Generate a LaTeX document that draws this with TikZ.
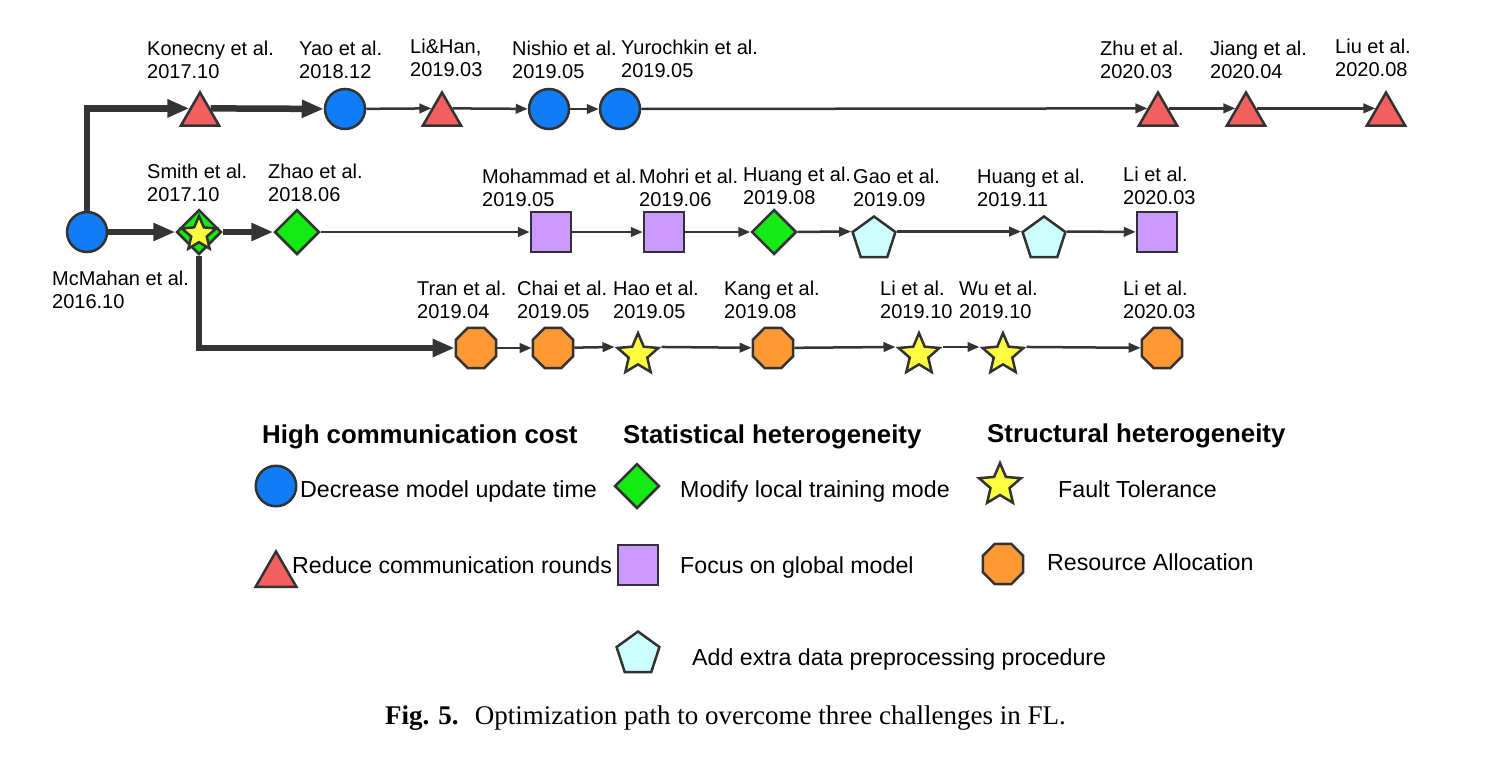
\documentclass[tikz,border=0pt]{standalone}
\usepackage{fontspec}
\setmainfont{Liberation Sans}
\newfontfamily\capfont{Liberation Serif}
\usetikzlibrary{shapes.geometric,arrows.meta}
\definecolor{cblue}{RGB}{16,124,245}
\definecolor{cred}{RGB}{242,96,96}
\definecolor{cgreen}{RGB}{20,235,20}
\definecolor{cpurple}{RGB}{204,153,255}
\definecolor{ccyan}{RGB}{204,255,255}
\definecolor{cyellow}{RGB}{255,255,64}
\definecolor{corange}{RGB}{255,153,51}
\definecolor{outl}{RGB}{50,50,50}
\definecolor{lnc}{RGB}{52,52,52}
\begin{document}
\begin{tikzpicture}[x=1pt,y=-1pt,
  shp/.style={draw=outl, line width=2.5pt, inner sep=0pt},
  circ/.style={shp, circle, fill=cblue, minimum size=40pt},
  tri/.style={shp, regular polygon, regular polygon sides=3, fill=cred, minimum size=44pt},
  dia/.style={shp, diamond, fill=cgreen, minimum width=45pt, minimum height=45pt},
  sq/.style={shp, rectangle, fill=cpurple, minimum size=40pt},
  pent/.style={shp, regular polygon, regular polygon sides=5, fill=ccyan, minimum size=45pt},
  stt/.style={shp, star, star points=5, star point ratio=2.2, fill=cyellow, minimum size=43pt},
  oct/.style={shp, regular polygon, regular polygon sides=8, fill=corange, minimum size=43.5pt},
  lab/.style={anchor=north west, inner sep=0pt, align=left, font=\fontsize{20}{23}\selectfont},
  head/.style={anchor=base west, inner sep=0pt, font=\bfseries\fontsize{25.8}{30}\selectfont},
  lgtxt/.style={anchor=base west, inner sep=0pt, font=\fontsize{23.2}{27}\selectfont},
  thinarr/.style={draw=lnc, line width=2.5pt, -{Triangle[length=12pt,width=9.5pt]}},
  thickarr/.style={draw=lnc, line width=6.5pt, -{Triangle[length=22pt,width=17pt]}}
]
\useasboundingbox (0,0) rectangle (1486,756);

% ---- top row
\node[circ] (mcmahan) at (87,232) {};
\node[tri] (konecny) at (200,114.5) {};
\node[circ] (yao) at (345,109) {};
\node[tri] (lihan) at (442,114.5) {};
\node[circ] (nishio) at (549,109) {};
\node[circ] (yurochkin) at (620,109) {};
\node[tri] (zhu) at (1158,114.5) {};
\node[tri] (jiang) at (1246,114.5) {};
\node[tri] (liu) at (1386,114.5) {};

% ---- middle row
\node[dia] (smith) at (199,232) {};
\node[stt, minimum size=36pt] (smithstar) at (199,234) {};
\node[dia] (zhao) at (297,232) {};
\node[sq] (mohammad) at (551,232) {};
\node[sq] (mohri) at (664,232) {};
\node[dia] (huangA) at (774,232) {};
\node[pent] (gao) at (874,239) {};
\node[pent] (huangB) at (1044,239) {};
\node[sq] (liA) at (1157,232) {};

% ---- bottom row
\node[oct] (tran) at (476,348) {};
\node[oct] (chai) at (553,348) {};
\node[stt] (hao) at (638,354.6) {};
\node[oct] (kang) at (773,348) {};
\node[stt] (liB) at (919,354.6) {};
\node[stt] (wu) at (1003,354.6) {};
\node[oct] (liC) at (1162,348) {};

% ---- connectors
\draw[thickarr] (mcmahan.north) |- (konecny.side 1);
\draw[thickarr] (konecny.side 3) -- (yao);
\draw[thinarr] (yao) -- (lihan.side 1);
\draw[thinarr] (lihan.side 3) -- (nishio);
\draw[thinarr] (nishio) -- (yurochkin);
\draw[thinarr] (yurochkin) -- (zhu.side 1);
\draw[thinarr] (zhu.side 3) -- (jiang.side 1);
\draw[thinarr] (jiang.side 3) -- (liu.side 1);

\draw[thickarr] (mcmahan) -- (smith);
\draw[thickarr] (smith) -- (zhao);
\draw[thinarr] (zhao) -- (mohammad);
\draw[thinarr] (mohammad) -- (mohri);
\draw[thinarr] (mohri) -- (huangA);
\draw[thinarr] (huangA) -- (gao.corner 2);
\draw[thinarr] (gao.corner 5) -- (huangB.corner 2);
\draw[thinarr] (huangB.corner 5) -- (liA);

\draw[thickarr] (smith.south) |- (tran);
\draw[thinarr] (tran) -- (chai);
\draw[thinarr] (chai) -- (hao.outer point 2);
\draw[thinarr] (hao.outer point 5) -- (kang);
\draw[thinarr] (kang) -- (liB.outer point 2);
\draw[thinarr] (liB.outer point 5) -- (wu.outer point 2);
\draw[thinarr] (wu.outer point 5) -- (liC);

% ---- labels
\node[lab] (l-konecny) at (147,40.5) {Konecny et al.\\2017.10};
\node[lab] (l-yao) at (299,40.5) {Yao et al.\\2018.12};
\node[lab] (l-lihan) at (410,39) {Li\&Han,\\2019.03};
\node[lab] (l-nishio) at (512,40.5) {Nishio et al.\\2019.05};
\node[lab] (l-yurochkin) at (621,40) {Yurochkin et al.\\2019.05};
\node[lab] (l-zhu) at (1100,40.5) {Zhu et al.\\2020.03};
\node[lab] (l-jiang) at (1210,40.5) {Jiang et al.\\2020.04};
\node[lab] (l-liu) at (1335,38.5) {Liu et al.\\2020.08};

\node[lab] (l-smith) at (147,163.5) {Smith et al.\\2017.10};
\node[lab] (l-zhao) at (268,163.5) {Zhao et al.\\2018.06};
\node[lab] (l-mohammad) at (482,168.5) {Mohammad et al.\\2019.05};
\node[lab] (l-mohri) at (639,168.5) {Mohri et al.\\2019.06};
\node[lab] (l-huangA) at (743,167) {Huang et al.\\2019.08};
\node[lab] (l-gao) at (853,168.5) {Gao et al.\\2019.09};
\node[lab] (l-huangB) at (977,169) {Huang et al.\\2019.11};
\node[lab] (l-liA) at (1123,167) {Li et al.\\2020.03};
\node[lab] (l-mcmahan) at (52,270.5) {McMahan et al.\\2016.10};

\node[lab] (l-tran) at (417,280.5) {Tran et al.\\2019.04};
\node[lab] (l-chai) at (517,280.5) {Chai et al.\\2019.05};
\node[lab] (l-hao) at (613,280.5) {Hao et al.\\2019.05};
\node[lab] (l-kang) at (724,280.5) {Kang et al.\\2019.08};
\node[lab] (l-liB) at (880,280.5) {Li et al.\\2019.10};
\node[lab] (l-wu) at (959,280.5) {Wu et al.\\2019.10};
\node[lab] (l-liC) at (1123,280.5) {Li et al.\\2020.03};

% ---- legend
\node[head] (h1) at (262,443) {High communication cost};
\node[head] (h2) at (623,443) {Statistical heterogeneity};
\node[head] (h3) at (987,442) {Structural heterogeneity};

\node[circ, minimum size=40.5pt] (lgcirc) at (276,486) {};
\node[tri, minimum size=47pt] (lgtri) at (276,575) {};
\node[dia] (lgdia) at (637,486) {};
\node[sq] (lgsq) at (638,565) {};
\node[pent] (lgpent) at (638,654) {};
\node[stt, minimum size=44pt] (lgstar) at (1000,485) {};
\node[oct] (lgoct) at (1003,564) {};

\node[lgtxt] (t1) at (300,497) {Decrease model update time};
\node[lgtxt] (t2) at (292,573) {Reduce communication rounds};
\node[lgtxt] (t3) at (680,497) {Modify local training mode};
\node[lgtxt] (t4) at (680,573) {Focus on global model};
\node[lgtxt] (t5) at (692,665) {Add extra data preprocessing procedure};
\node[lgtxt] (t6) at (1058,497) {Fault Tolerance};
\node[lgtxt] (t7) at (1047,570) {Resource Allocation};

% ---- caption
\node[anchor=base west, inner sep=0pt, font=\capfont\fontsize{27}{31}\selectfont] (cap) at (385,724) {\textbf{Fig. 5.}\hspace{0.6em}Optimization path to overcome three challenges in FL.};
\end{tikzpicture}
\end{document}
